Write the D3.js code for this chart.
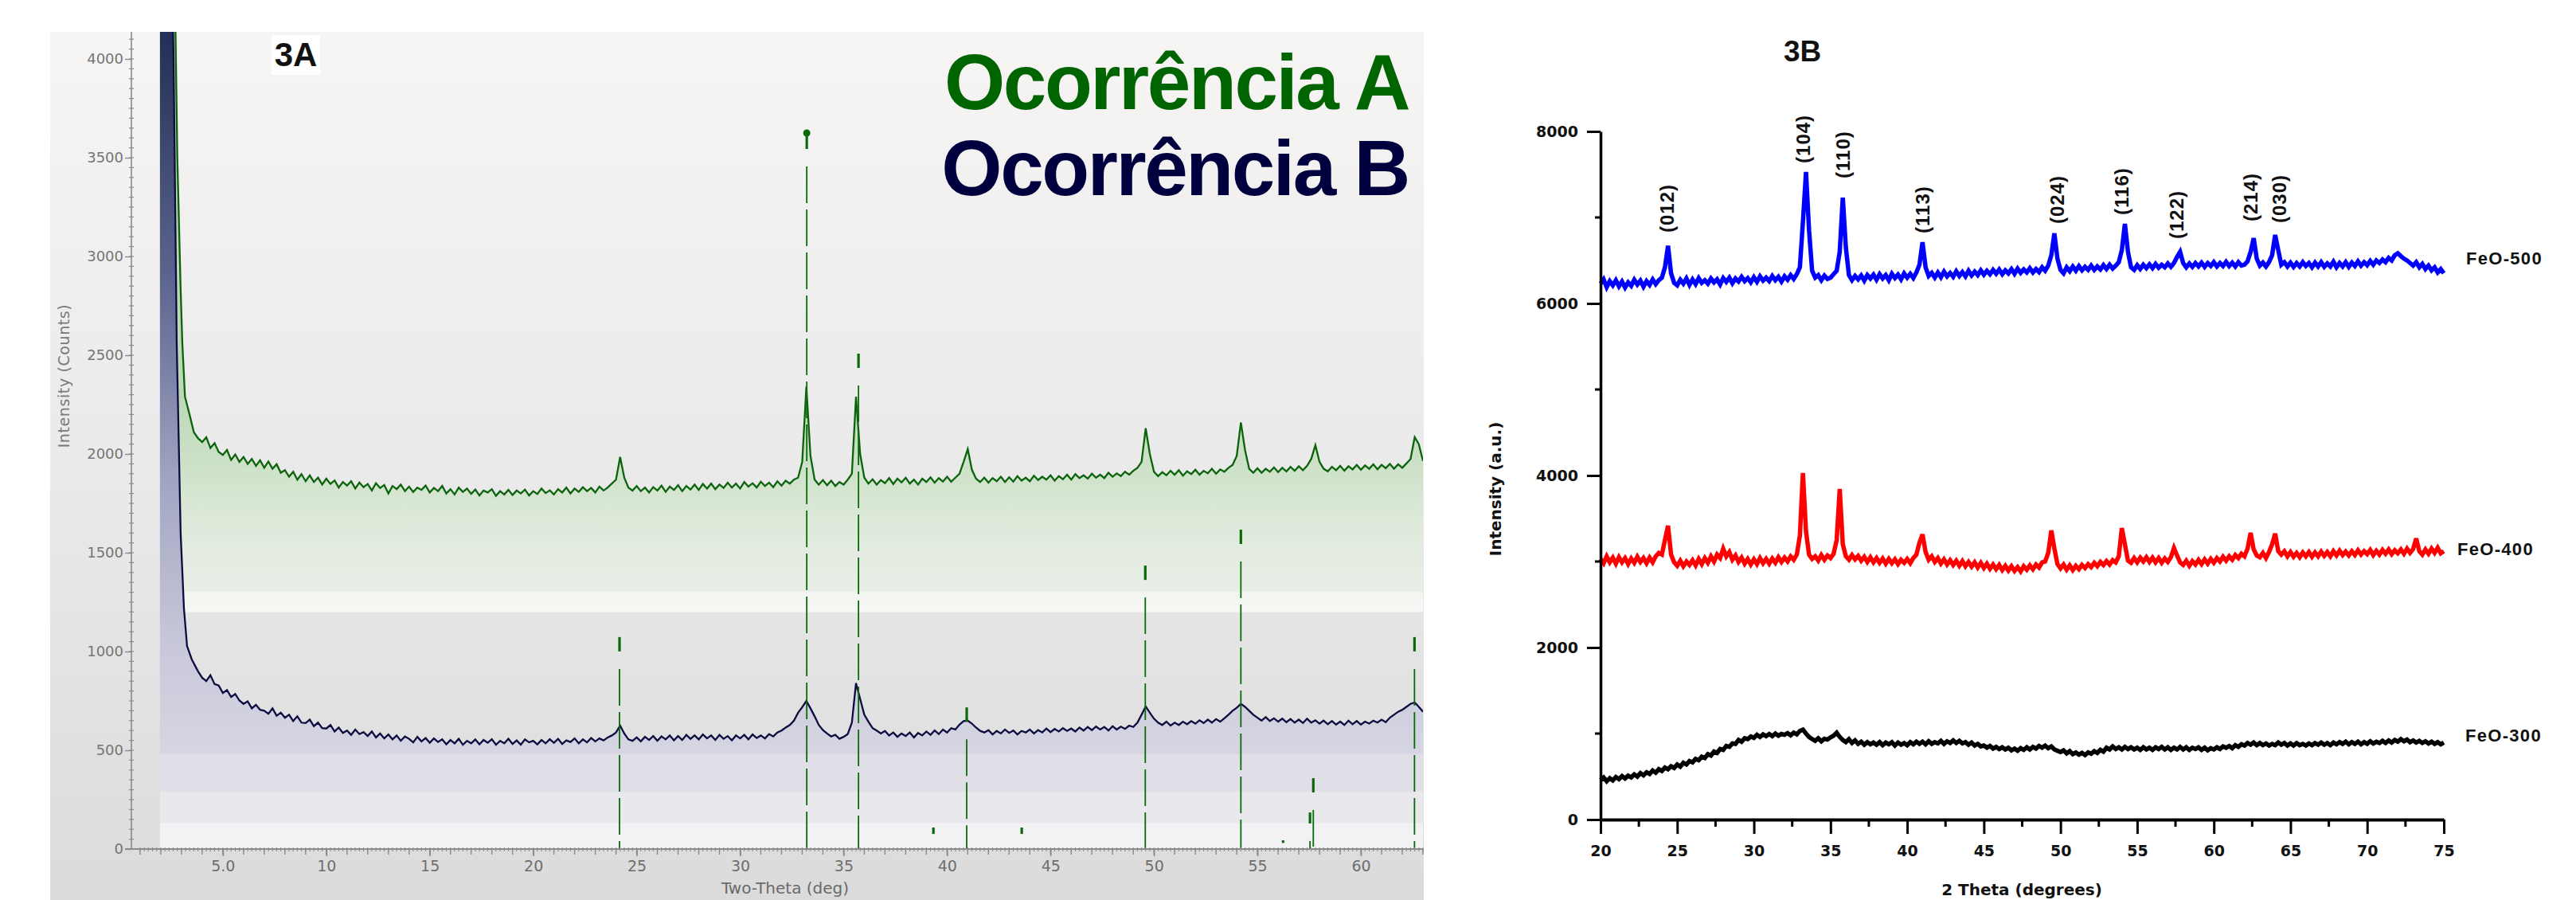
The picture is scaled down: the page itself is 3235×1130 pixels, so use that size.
<!DOCTYPE html>
<html><head><meta charset="utf-8">
<script src="https://cdn.jsdelivr.net/npm/d3@7/dist/d3.min.js"></script>
<style>html,body{margin:0;padding:0;background:#fff;} svg{display:block;}</style>
</head><body>
<svg id="c" width="3235" height="1130"></svg>
<script>
// ================= DATA: panel 3A (two-theta, counts) =================
const headAx = [2.6, 2.69, 2.8, 2.96, 3.04, 3.17, 3.39, 3.6, 3.8];
const headAy = [6000, 4300, 3500, 2835, 2565, 2290, 2200, 2110, 2080];
const headBx = [1.96, 2.55, 2.62, 2.77, 2.96, 3.12, 3.27, 3.5, 3.8];
const headBy = [6000, 4400, 4000, 2565, 1600, 1218, 1028, 960, 900];
const bodyStartA = 4.0, stepA = 0.2;
const ocorrenciaA = [
2060,2085,2030,2055,2010, 1995,2020,1970,1998,1960, 1985,1950,1975,1940,1968, 1930,1962,1925,1948,1905,
1918,1885,1910,1870,1898, 1862,1892,1858,1880,1845, 1875,1848,1866,1830,1858, 1840,1862,1825,1855,1832,
1848,1815,1852,1828,1843, 1800,1838,1822,1845,1812, 1835,1808,1830,1818,1840, 1805,1828,1812,1838,1800,
1822,1795,1830,1808,1825, 1798,1820,1790,1815,1805, 1822,1788,1812,1795,1818, 1792,1815,1800,1820,1790,
1812,1798,1825,1802,1816, 1795,1822,1805,1830,1800, 1825,1808,1832,1812,1828, 1805,1835,1815,1830,1850,
1870,1985,1880,1830,1815, 1838,1812,1830,1805,1832, 1815,1840,1808,1835,1818, 1842,1812,1838,1820,1845,
1818,1848,1825,1850,1822, 1845,1828,1855,1830,1850, 1825,1858,1835,1852,1830, 1860,1838,1855,1832,1862,
1840,1865,1850,1870,1880, 1960,2340,1990,1870,1845, 1868,1842,1865,1838,1858, 1845,1870,1900,2290,2000,
1880,1850,1872,1845,1868, 1852,1878,1848,1875,1856, 1880,1850,1870,1845,1875, 1858,1882,1855,1878,1860,
1885,1860,1880,1900,1960, 2025,1920,1875,1858,1880, 1855,1878,1862,1885,1858, 1882,1860,1888,1865,1880,
1862,1890,1868,1885,1870, 1892,1865,1888,1872,1895, 1870,1898,1878,1892,1875, 1900,1880,1895,1878,1905,
1885,1902,1888,1910,1895, 1915,1930,1960,2130,2000, 1910,1888,1908,1892,1915, 1895,1918,1890,1912,1898,
1920,1895,1915,1902,1925, 1900,1922,1910,1930,1945, 1990,2160,2020,1925,1905, 1928,1905,1925,1910,1932,
1908,1930,1912,1935,1915, 1938,1918,1940,1975,2045, 1960,1925,1912,1935,1918, 1940,1915,1938,1922,1945,
1920,1942,1925,1948,1922, 1945,1928,1950,1925,1948, 1930,1952,1975,2085,2050, 1965];
const ocorrenciaB = [
867,850,880,835,828, 790,805,770,785,752, 735,748,712,730,705, 700,685,712,675,690,
665,680,648,672,640, 638,655,622,640,612, 610,628,595,615,588, 600,578,605,582,592,
572,595,565,585,560, 580,555,575,548,570, 558,540,568,545,562, 538,560,542,555,530,
552,535,558,528,548, 535,555,530,552,538, 556,528,548,535,558, 532,550,528,555,540,
548,530,552,535,556, 538,558,532,550,542, 560,535,555,540,562, 545,560,550,565,575,
590,625,585,555,548, 565,545,568,552,572, 548,570,555,575,550, 572,552,578,558,575,
555,580,560,575,552, 578,558,572,550,575, 560,578,555,580,562, 575,560,582,570,590,
600,615,628,650,690, 718,750,712,672,628, 602,585,570,578,558, 568,582,640,840,760,
680,645,612,600,585, 598,575,590,568,585, 572,590,565,588,575, 595,578,600,582,605,
590,612,605,630,648, 650,635,615,598,590, 602,580,598,585,605, 588,600,580,598,590,
605,585,602,590,610, 592,608,595,612,598, 610,595,615,600,618, 602,620,605,618,600,
622,605,620,608,625, 618,640,680,722,690, 660,640,628,645,625, 640,628,645,632,648,
635,652,638,655,640, 658,645,662,680,700, 715,735,720,700,680, 665,650,668,648,662,
645,660,642,658,640, 655,638,660,640,652, 635,650,632,648,630, 645,628,650,632,648,
630,645,635,650,640, 655,642,665,680,695, 705,720,735,742,720, 695];
const refPos = [24.17, 33.22, 35.72, 39.34, 40.95, 43.61, 49.58, 54.2, 56.24, 57.54, 57.7, 62.59];
const refInt = [1073, 3617, 2508, 109, 717, 109, 1435, 1617, 44, 185, 359, 1073];
const yTicksA = [0, 500, 1000, 1500, 2000, 2500, 3000, 3500, 4000];
const xTicksA = [5, 10, 15, 20, 25, 30, 35, 40, 45, 50, 55, 60];
const xTickLabelsA = ["5.0","10","15","20","25","30","35","40","45","50","55","60"];

// ================= DATA: panel 3B (2 theta, a.u.) =================
const startB = 20.0, stepB = 0.2;
const feo500 = [
6230,6280,6190,6260,6210, 6270,6200,6255,6185,6245, 6205,6275,6220,6265,6195, 6260,6215,6280,6225,6270,
6300,6420,6670,6350,6240, 6210,6275,6230,6290,6215, 6280,6225,6295,6240,6270, 6230,6290,6245,6280,6220,
6295,6250,6300,6235,6290, 6255,6310,6260,6295,6245, 6305,6250,6315,6265,6300, 6260,6320,6270,6310,6255,
6315,6275,6330,6285,6340, 6420,6950,7528,6850,6380, 6300,6330,6270,6325,6285, 6300,6340,6380,6600,7231,
6650,6330,6270,6320,6280, 6325,6265,6330,6290,6335, 6275,6340,6290,6330,6270, 6345,6295,6335,6280,6350,
6300,6345,6295,6360,6450, 6713,6420,6320,6355,6300, 6360,6305,6370,6315,6355, 6310,6375,6320,6365,6315,
6380,6325,6370,6330,6385, 6335,6380,6340,6390,6345, 6395,6340,6385,6350,6400, 6345,6405,6355,6395,6360,
6410,6360,6400,6365,6420, 6380,6440,6560,6815,6520, 6390,6350,6420,6375,6430, 6380,6435,6385,6425,6390,
6440,6390,6430,6395,6445, 6400,6450,6405,6440,6480, 6620,6926,6600,6420,6390, 6445,6400,6450,6410,6455,
6410,6460,6415,6450,6420, 6465,6425,6470,6540,6600, 6470,6420,6465,6425,6470, 6430,6475,6425,6470,6435,
6480,6430,6470,6435,6485, 6435,6475,6430,6480,6440, 6450,6490,6600,6759,6520, 6440,6475,6430,6480,6560,
6796,6620,6450,6480,6430, 6475,6425,6470,6430,6480, 6435,6470,6420,6475,6430, 6480,6425,6465,6430,6485,
6420,6470,6430,6480,6425, 6475,6435,6490,6440,6480, 6445,6495,6450,6500,6470, 6510,6480,6530,6500,6560,
6583,6550,6520,6500,6470, 6440,6480,6420,6460,6400, 6440,6385,6420,6360,6400, 6350];
const feo400 = [
3030,2980,3060,2990,3045, 2975,3050,2990,3040,2970, 3035,2985,3055,2995,3040, 2980,3045,2990,3060,3100,
3080,3250,3417,3080,2990, 2950,3010,2945,3000,2960, 3015,2955,3030,2970,3040, 2985,3060,3000,3080,3040,
3148,3060,3110,3020,3070, 2995,3045,2975,3030,2965, 3025,2970,3040,2980,3030, 2975,3035,2985,3050,2995,
3045,3000,3060,3020,3080, 3300,4028,3350,3080,3030, 3060,3010,3075,3020,3070, 3040,3090,3250,3843,3200,
3060,3020,3075,3025,3065, 3010,3055,2995,3050,2990, 3040,2985,3035,2975,3030, 2980,3025,2970,3020,2985,
3030,2980,3040,3080,3220, 3315,3110,3020,3060,2995, 3040,2975,3025,2965,3015, 2960,3010,2950,3005,2945,
2995,2940,2990,2930,2985, 2925,2975,2915,2965,2910, 2960,2900,2950,2895,2945, 2890,2935,2885,2945,2905,
2955,2910,2965,2930,2990, 3000,3100,3361,3150,2970, 2920,2965,2905,2955,2900, 2950,2910,2960,2925,2970,
2935,2985,2945,2995,2960, 3005,2965,3015,2990,3060, 3389,3200,3010,2985,3040, 2990,3045,3000,3050,2995,
3045,2990,3040,2985,3035, 2995,3050,3157,3070,2990, 2960,3010,2950,3005,2965, 3020,2970,3025,2975,3030,
2985,3040,3000,3055,3010, 3060,3020,3075,3040,3090, 3060,3150,3333,3140,3070, 3050,3100,3040,3110,3200,
3324,3120,3080,3120,3060, 3110,3055,3100,3050,3105, 3060,3110,3055,3105,3060, 3115,3065,3110,3060,3120,
3070,3125,3075,3115,3070, 3120,3075,3130,3080,3120, 3085,3135,3075,3125,3080, 3135,3090,3140,3085,3130,
3095,3140,3090,3150,3100, 3145,3268,3120,3080,3140, 3090,3150,3100,3160,3095, 3120];
const feo300 = [
460,490,445,480,455, 495,470,505,478,510, 490,525,500,540,515, 550,530,570,545,585,
565,605,585,620,600, 640,615,660,640,680, 665,705,690,730,715, 760,745,790,775,820,
810,855,845,885,880, 925,905,945,935,965, 950,985,960,990,970, 995,970,1000,975,995,
985,1005,980,1010,990, 1030,1046,1000,960,935, 915,945,910,940,930, 955,975,1009,960,925,
900,935,890,920,880, 905,870,900,875,895, 870,900,865,895,875, 900,860,895,870,890,
865,900,875,905,880, 905,875,910,880,900, 885,915,880,910,890, 920,890,915,885,900,
870,895,860,880,850, 860,835,855,825,845, 820,840,815,835,805, 825,800,830,810,840,
815,845,825,855,835, 860,830,850,815,800, 785,805,770,795,760, 780,755,775,750,780,
765,795,775,810,790, 835,815,850,820,840, 815,845,820,840,815, 835,810,840,815,835,
810,840,820,845,815, 840,810,835,815,845, 815,840,810,835,820, 840,810,835,805,830,
815,840,820,850,835, 855,830,865,845,875, 860,890,870,895,865, 890,865,885,860,880,
865,895,870,890,860, 885,860,890,865,880, 860,885,865,890,870, 895,870,890,865,895,
875,900,880,905,875, 900,880,905,875,900, 880,910,885,905,890, 915,890,920,895,925,
905,935,910,930,900, 920,895,915,890,910, 885,905,880,900,875, 895];
const hklLabels = ["(012)","(104)","(110)","(113)","(024)","(116)","(122)","(214)","(030)"];
const hklPos = [24.36, 33.2, 35.8, 41.0, 49.8, 54.0, 57.6, 62.4, 64.3];
const hklLabelAt = [6824, 7630, 7454, 6815, 6926, 7028, 6750, 6954, 6935];
const seriesNamesB = ["FeO-500", "FeO-400", "FeO-300"];
const yTicksB = [0, 2000, 4000, 6000, 8000];
const yMinorB = [1000, 3000, 5000, 7000];
const xTicksB = [20, 25, 30, 35, 40, 45, 50, 55, 60, 65, 70, 75];
const xMinorB = [22.5, 27.5, 32.5, 37.5, 42.5, 47.5, 52.5, 57.5, 62.5, 67.5, 72.5];

// ================= DRAW =================
const svg = d3.select("#c");
const defs = svg.append("defs");
function grad(id, attrs, stops) {
  const g = defs.append("linearGradient").attr("id", id);
  Object.entries(attrs).forEach(([k, v]) => g.attr(k, v));
  stops.forEach(s => g.append("stop").attr("offset", s[0]).attr("stop-color", s[1]));
}

// ---------- Panel 3A ----------
const xA = d3.scaleLinear().domain([0.58, 63.0]).range([165, 1787]);
const yA = d3.scaleLinear().domain([0, 4000]).range([1066, 74]);

grad("bgA", {x1: 0, y1: 0, x2: 0, y2: 1}, [[0, "#f6f5f4"], [0.5, "#ebeaea"], [1, "#dbdbdb"]]);
svg.append("rect").attr("x", 63).attr("y", 40).attr("width", 1725).attr("height", 1090).attr("fill", "url(#bgA)");

grad("gFillA", {gradientUnits: "userSpaceOnUse", x1: 0, x2: 0, y1: yA(2300), y2: yA(1200)},
  [[0, "#bdd7b7"], [0.36, "#cfe2ca"], [0.55, "#dbe8d7"], [0.73, "#e4ece1"], [0.905, "#e8eee6"], [0.91, "#f3f5f1"], [1, "#f7f8f5"]]);
grad("bFillA", {gradientUnits: "userSpaceOnUse", x1: 0, x2: 0, y1: yA(4100), y2: yA(0)},
  [[0, "#243058"], [0.3, "#5d6690"], [0.55, "#a3a6c3"], [0.75, "#c8c8da"], [0.882, "#d6d5e2"], [0.884, "#e0dfe7"],
   [0.928, "#e0dfe7"], [0.930, "#e9e8ed"], [0.967, "#e9e8ed"], [0.969, "#f2f1f4"], [1, "#f2f1f4"]]);

defs.append("clipPath").attr("id", "clipA").append("rect")
  .attr("x", 165).attr("y", 40).attr("width", 1622).attr("height", 1026);

const dataA = headAx.map((x, i) => [x, headAy[i]]).concat(ocorrenciaA.map((v, i) => [bodyStartA + i * stepA, v]));
const dataB = headBx.map((x, i) => [x, headBy[i]]).concat(ocorrenciaB.map((v, i) => [bodyStartA + i * stepA, v]));

const gA = svg.append("g").attr("clip-path", "url(#clipA)");
gA.append("path").datum(dataA)
  .attr("d", d3.area().x(d => xA(d[0])).y0(yA(1200)).y1(d => yA(d[1])))
  .attr("fill", "url(#gFillA)");
gA.append("path").datum(dataB)
  .attr("d", d3.area().x(d => xA(d[0])).y0(yA(0)).y1(d => yA(d[1])))
  .attr("fill", "url(#bFillA)");
const lineA = d3.line().x(d => xA(d[0])).y(d => yA(d[1]));
gA.append("path").datum(dataA).attr("d", lineA).attr("fill", "none")
  .attr("stroke", "#0b640b").attr("stroke-width", 2.3).attr("stroke-linejoin", "miter");
gA.append("path").datum(dataB).attr("d", lineA).attr("fill", "none")
  .attr("stroke", "#0c0c40").attr("stroke-width", 2.3).attr("stroke-linejoin", "miter");

refPos.forEach((p, i) => {
  const x = xA(p), yt = yA(refInt[i]), yb = yA(0);
  const len = yb - yt;
  const cap = Math.min(18, len * 0.3);
  gA.append("line").attr("x1", x).attr("x2", x).attr("y1", yt).attr("y2", yt + cap)
    .attr("stroke", "#0a6a0a").attr("stroke-width", 3.2);
  if (len > 40) {
    gA.append("line").attr("x1", x).attr("x2", x).attr("y1", yt + cap + 22).attr("y2", yb)
      .attr("stroke", "#0a6a0a").attr("stroke-width", 1.8).attr("stroke-dasharray", "46,8");
  }
  if (refInt[i] > 3000) {
    gA.append("circle").attr("cx", x).attr("cy", yt - 2).attr("r", 4.5).attr("fill", "#0a6a0a");
  }
});

const axA = svg.append("g").attr("font-family", "DejaVu Sans");
const yMicroA = d3.range(0, 4101, 50);
axA.append("g").selectAll("line").data(yMicroA).join("line")
  .attr("x1", 162).attr("x2", 168).attr("y1", d => yA(d)).attr("y2", d => yA(d))
  .attr("stroke", "#8c8c8c").attr("stroke-width", 1.2);
const yAxA = axA.append("g").attr("transform", "translate(165,0)")
  .call(d3.axisLeft(yA).tickValues(yTicksA).tickSize(8).tickPadding(2).tickSizeOuter(0).tickFormat(d3.format("d")));
yAxA.select(".domain").attr("d", `M0,40V${yA(0)}`).attr("stroke", "#8a8a8a").attr("stroke-width", 1.6);
yAxA.selectAll(".tick line").attr("stroke", "#8a8a8a").attr("stroke-width", 1.4);
yAxA.selectAll(".tick text").attr("font-size", 18).attr("fill", "#757575").attr("font-family", "DejaVu Sans");
const xMicroA = d3.range(1, 63.01, 0.2);
axA.append("g").selectAll("line").data(xMicroA).join("line")
  .attr("x1", d => xA(d)).attr("x2", d => xA(d)).attr("y1", yA(0) - 2).attr("y2", yA(0) + 3)
  .attr("stroke", "#8c8c8c").attr("stroke-width", 1.1);
axA.append("g").selectAll("line").data(d3.range(1, 63.01, 1)).join("line")
  .attr("x1", d => xA(d)).attr("x2", d => xA(d)).attr("y1", yA(0)).attr("y2", yA(0) + 7)
  .attr("stroke", "#8a8a8a").attr("stroke-width", 1.4);
const xAxA = axA.append("g").attr("transform", `translate(0,${yA(0)})`)
  .call(d3.axisBottom(xA).tickValues(xTicksA).tickSize(9).tickPadding(6).tickSizeOuter(0)
    .tickFormat((d, i) => xTickLabelsA[i]));
xAxA.select(".domain").attr("d", `M157,0H1787`).attr("stroke", "#8a8a8a").attr("stroke-width", 2);
xAxA.selectAll(".tick line").attr("stroke", "#8a8a8a").attr("stroke-width", 1.6);
xAxA.selectAll(".tick text").attr("font-size", 19).attr("fill", "#6e6e6e").attr("font-family", "DejaVu Sans");

svg.append("text").attr("transform", "translate(80,472) rotate(-90)")
  .attr("text-anchor", "middle").attr("dominant-baseline", "central")
  .attr("font-family", "DejaVu Sans").attr("font-size", 19).attr("letter-spacing", 0.6)
  .attr("fill", "#7a7a7a").text("Intensity (Counts)");
svg.append("text").attr("x", 986).attr("y", 1122).attr("text-anchor", "middle")
  .attr("font-family", "DejaVu Sans").attr("font-size", 20).attr("fill", "#6a6a6a")
  .text("Two-Theta (deg)");

svg.append("rect").attr("x", 341).attr("y", 44).attr("width", 61).attr("height", 50).attr("fill", "#ffffff");
svg.append("text").attr("x", 371.5).attr("y", 83).attr("text-anchor", "middle")
  .attr("font-family", "Liberation Sans, Arial, sans-serif").attr("font-weight", "bold")
  .attr("font-size", 42).attr("fill", "#111").text("3A");
svg.append("text").attr("x", 1769).attr("y", 137).attr("text-anchor", "end")
  .attr("font-family", "Liberation Sans, Arial, sans-serif").attr("font-weight", "bold")
  .attr("font-size", 98).attr("letter-spacing", -2.4).attr("fill", "#006400").text("Ocorrência A");
svg.append("text").attr("x", 1769).attr("y", 245).attr("text-anchor", "end")
  .attr("font-family", "Liberation Sans, Arial, sans-serif").attr("font-weight", "bold")
  .attr("font-size", 98).attr("letter-spacing", -2.4).attr("fill", "#00003f").text("Ocorrência B");

// ---------- Panel 3B ----------
const xB = d3.scaleLinear().domain([20, 75]).range([2010, 3069]);
const yB = d3.scaleLinear().domain([0, 8000]).range([1029, 165]);
const lineB = d3.line().x(d => xB(d[0])).y(d => yB(d[1]));
const seriesB = [feo500, feo400, feo300];
const colorsB = ["#0000ff", "#ff0000", "#000000"];
seriesB.forEach((s, k) => {
  svg.append("path").datum(s.map((v, i) => [startB + i * stepB, v]))
    .attr("d", lineB).attr("fill", "none").attr("stroke", colorsB[k])
    .attr("stroke-width", 5.5).attr("stroke-linejoin", "miter").attr("stroke-miterlimit", 3);
});
const labelPosB = [[3097, 332], [3086, 697], [3096, 931]];
seriesNamesB.forEach((n, k) => {
  svg.append("text").attr("x", labelPosB[k][0]).attr("y", labelPosB[k][1])
    .attr("font-family", "Liberation Sans, Arial, sans-serif").attr("font-weight", "bold")
    .attr("font-size", 22).attr("letter-spacing", 1.3).attr("fill", "#111").text(n);
});
hklLabels.forEach((t, i) => {
  const x = xB(hklPos[i]), y = yB(hklLabelAt[i]);
  svg.append("text").attr("transform", `translate(${x},${y}) rotate(-90)`)
    .attr("text-anchor", "start").attr("dominant-baseline", "central")
    .attr("font-family", "Liberation Sans, Arial, sans-serif").attr("font-weight", "bold")
    .attr("font-size", 24).attr("letter-spacing", 1.0).attr("fill", "#111").text(t);
});
const yAxB = svg.append("g").attr("transform", "translate(2010,0)")
  .call(d3.axisLeft(yB).tickValues(yTicksB).tickSize(17).tickPadding(11).tickSizeOuter(0).tickFormat(d3.format("d")));
yAxB.select(".domain").attr("stroke", "#000").attr("stroke-width", 3.5);
yAxB.selectAll(".tick line").attr("stroke", "#000").attr("stroke-width", 3);
yAxB.selectAll(".tick text").attr("font-family", "DejaVu Sans").attr("font-weight", "bold")
  .attr("font-size", 19).attr("fill", "#111");
svg.append("g").selectAll("line").data(yMinorB).join("line")
  .attr("x1", 2003).attr("x2", 2010).attr("y1", d => yB(d)).attr("y2", d => yB(d))
  .attr("stroke", "#000").attr("stroke-width", 3);
const xAxB = svg.append("g").attr("transform", `translate(0,${yB(0)})`)
  .call(d3.axisBottom(xB).tickValues(xTicksB).tickSize(18).tickPadding(15).tickSizeOuter(0).tickFormat(d3.format("d")));
xAxB.select(".domain").attr("stroke", "#000").attr("stroke-width", 4);
xAxB.selectAll(".tick line").attr("stroke", "#000").attr("stroke-width", 3);
xAxB.selectAll(".tick text").attr("font-family", "DejaVu Sans").attr("font-weight", "bold")
  .attr("font-size", 19).attr("fill", "#111");
svg.append("g").selectAll("line").data(xMinorB).join("line")
  .attr("x1", d => xB(d)).attr("x2", d => xB(d)).attr("y1", yB(0)).attr("y2", yB(0) + 9)
  .attr("stroke", "#000").attr("stroke-width", 3);

svg.append("text").attr("x", 2539).attr("y", 1124).attr("text-anchor", "middle")
  .attr("font-family", "DejaVu Sans").attr("font-weight", "bold").attr("font-size", 20)
  .attr("fill", "#111").text("2 Theta (degrees)");
svg.append("text").attr("transform", "translate(1878,614) rotate(-90)")
  .attr("text-anchor", "middle").attr("dominant-baseline", "central")
  .attr("font-family", "DejaVu Sans").attr("font-weight", "bold").attr("font-size", 20)
  .attr("fill", "#111").text("Intensity (a.u.)");
svg.append("text").attr("x", 2240).attr("y", 77)
  .attr("font-family", "Liberation Sans, Arial, sans-serif").attr("font-weight", "bold")
  .attr("font-size", 37).attr("fill", "#111").text("3B");
</script></body></html>
